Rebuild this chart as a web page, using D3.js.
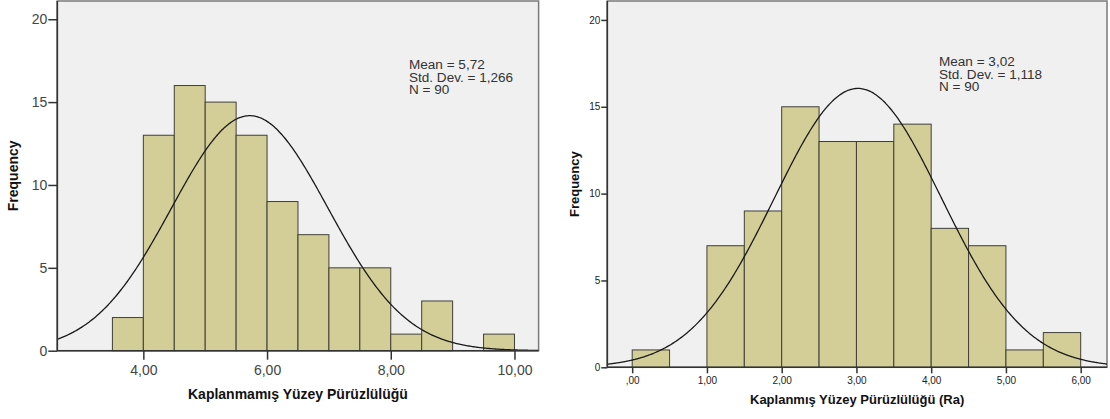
<!DOCTYPE html>
<html><head><meta charset="utf-8">
<script src="https://cdn.jsdelivr.net/npm/d3@7"></script>
<style>
html,body{margin:0;padding:0;background:#fff;}
svg{display:block;font-family:"Liberation Sans",Arial,sans-serif;}
</style></head>
<body>
<svg id="chart" width="1110" height="419"></svg>
<script>
// ---------- data ----------
const leftBinStarts = [3.5, 4.0, 4.5, 5.0, 5.5, 6.0, 6.5, 7.0, 7.5, 8.0, 8.5, 9.0, 9.5];
const leftCounts    = [2, 13, 16, 15, 13, 9, 7, 5, 5, 1, 3, 0, 1];
const leftXTicks    = [4, 6, 8, 10];
const leftYTicks    = [0, 5, 10, 15, 20];
const leftStats     = ["Mean = 5,72", "Std. Dev. = 1,266", "N = 90"];
const leftMean = 5.72, leftSD = 1.266, leftN = 90;
const leftXTitle = "Kaplanmamış Yüzey Pürüzlülüğü";

const rightBinStarts = [0.0, 0.5, 1.0, 1.5, 2.0, 2.5, 3.0, 3.5, 4.0, 4.5, 5.0, 5.5];
const rightCounts    = [1, 0, 7, 9, 15, 13, 13, 14, 8, 7, 1, 2];
const rightXTicks    = [0, 1, 2, 3, 4, 5, 6];
const rightYTicks    = [0, 5, 10, 15, 20];
const rightStats     = ["Mean = 3,02", "Std. Dev. = 1,118", "N = 90"];
const rightMean = 3.02, rightSD = 1.118, rightN = 90;
const rightXTitle = "Kaplanmış Yüzey Pürüzlülüğü (Ra)";

const binWidth = 0.5;
const yLabel = "Frequency";

// ---------- drawing ----------
const svg = d3.select("#chart");
const fmtX = v => { let s = d3.format(".2f")(v).replace(".", ","); return s.startsWith("0,") ? s.slice(1) : s; };

function drawHist(o) {
  const x = d3.scaleLinear().domain(o.xDomain).range([o.left, o.right]);
  const y = d3.scaleLinear().domain(o.yDomain).range([o.bottom, o.top]);
  const g = svg.append("g");

  const clipId = "clip" + o.id;
  g.append("clipPath").attr("id", clipId).append("rect")
    .attr("x", o.left).attr("y", o.top).attr("width", o.right - o.left).attr("height", o.bottom - o.top);

  // plot background
  g.append("rect").attr("x", o.left).attr("y", o.top)
    .attr("width", o.right - o.left).attr("height", o.bottom - o.top)
    .attr("fill", "#f0f0f0").attr("stroke", "#7a7a7a").attr("stroke-width", 1.5);

  // bars
  const bins = o.starts.map((s, i) => ({x0: s, x1: s + binWidth, n: o.counts[i]})).filter(d => d.n > 0);
  g.selectAll("rect.bar").data(bins).join("rect").attr("class", "bar")
    .attr("x", d => x(d.x0)).attr("y", d => y(d.n))
    .attr("width", d => x(d.x1) - x(d.x0)).attr("height", d => y(0) - y(d.n))
    .attr("fill", "#d3ce97").attr("stroke", "#3f3f38").attr("stroke-width", 1);

  // normal curve
  const scale = o.n * binWidth / (o.sd * Math.sqrt(2 * Math.PI));
  const pts = d3.range(o.xDomain[0], o.xDomain[1] + 0.001, (o.xDomain[1] - o.xDomain[0]) / 400)
    .map(v => [v, scale * Math.exp(-0.5 * Math.pow((v - o.mean) / o.sd, 2))]);
  g.append("path").datum(pts).attr("clip-path", `url(#${clipId})`)
    .attr("d", d3.line().x(d => x(d[0])).y(d => y(d[1])).curve(d3.curveBasis))
    .attr("fill", "none").attr("stroke", "#1a1a1a").attr("stroke-width", 1.3);

  // axes
  const xAxis = d3.axisBottom(x).tickValues(o.xTicks).tickFormat(fmtX).tickSize(o.tick).tickPadding(o.xPad).tickSizeOuter(0);
  const gx = g.append("g").attr("transform", `translate(0,${o.bottom})`).call(xAxis);
  gx.select(".domain").remove();
  gx.selectAll("line").attr("stroke", "#333").attr("stroke-width", 1.5);
  gx.selectAll("text").attr("font-size", o.tickFont).attr("fill", o.tickColor)
    .attr("font-family", '"Liberation Sans",Arial,sans-serif');

  const yAxis = d3.axisLeft(y).tickValues(o.yTicks).tickSize(o.tick).tickPadding(1).tickSizeOuter(0);
  const gy = g.append("g").attr("transform", `translate(${o.left},0)`).call(yAxis);
  gy.select(".domain").remove();
  gy.selectAll("line").attr("stroke", "#333").attr("stroke-width", 1.5);
  gy.selectAll("text").attr("font-size", o.yTickFont).attr("fill", o.tickColor)
    .attr("font-family", '"Liberation Sans",Arial,sans-serif');

  // axis lines (left & bottom darker)
  g.append("line").attr("x1", o.left).attr("x2", o.right).attr("y1", o.bottom).attr("y2", o.bottom)
    .attr("stroke", "#333").attr("stroke-width", 1.6);
  g.append("line").attr("x1", o.left).attr("x2", o.left).attr("y1", o.top).attr("y2", o.bottom)
    .attr("stroke", "#333").attr("stroke-width", 1.6);

  // titles
  g.append("text").attr("x", (o.left + o.right) / 2).attr("y", o.xTitleY)
    .attr("text-anchor", "middle").attr("font-weight", "bold").attr("font-size", o.titleFont)
    .attr("fill", "#111").text(o.xTitle);
  g.append("text").attr("transform", `translate(${o.yTitleX},${(o.top + o.bottom) / 2}) rotate(-90)`)
    .attr("text-anchor", "middle").attr("font-weight", "bold").attr("font-size", o.titleFont)
    .attr("fill", "#111").text(yLabel);

  // stats (slightly stretched horizontally like the original export)
  g.append("g").attr("transform", `translate(${o.statX},${o.statY}) scale(1.13,1)`)
    .selectAll("text").data(o.stats).join("text")
    .attr("x", 0).attr("y", (d, i) => i * 12.6)
    .attr("font-size", o.statFont).attr("fill", "#333").text(d => d);
}

drawHist({
  id: "L", left: 57.3, right: 538.6, top: 1, bottom: 350.7,
  xDomain: [2.609, 10.39], yDomain: [0, 21.1],
  starts: leftBinStarts, counts: leftCounts, xTicks: leftXTicks, yTicks: leftYTicks,
  mean: leftMean, sd: leftSD, n: leftN, stats: leftStats,
  tick: 9, xPad: 5, tickFont: 14, yTickFont: 14, tickColor: "#444",
  xTitle: leftXTitle, xTitleY: 399, yTitleX: 18, titleFont: 14,
  statX: 409, statY: 69, statFont: 12
});

drawHist({
  id: "R", left: 607.3, right: 1107, top: 1, bottom: 367.3,
  xDomain: [-0.333, 6.352], yDomain: [0, 21.09],
  starts: rightBinStarts, counts: rightCounts, xTicks: rightXTicks, yTicks: rightYTicks,
  mean: rightMean, sd: rightSD, n: rightN, stats: rightStats,
  tick: 6, xPad: 4, tickFont: 10, yTickFont: 10, tickColor: "#222",
  xTitle: rightXTitle, xTitleY: 404, yTitleX: 579, titleFont: 13,
  statX: 939, statY: 66, statFont: 12
});
</script>
</body></html>
